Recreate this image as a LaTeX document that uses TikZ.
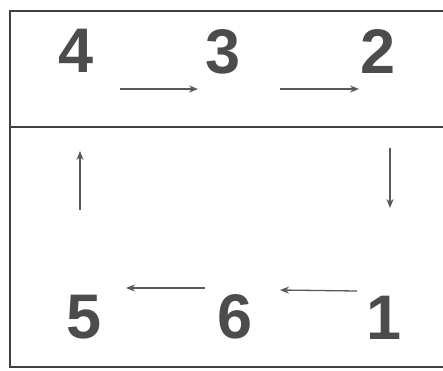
\documentclass[tikz,border=0pt]{standalone}
\usepackage{fontspec}
\setmainfont{Liberation Sans}
\usetikzlibrary{arrows.meta,positioning}

\begin{document}
\begin{tikzpicture}[
            x=1pt, y=-1pt,
            num/.style={font=\bfseries\fontsize{63}{63}\selectfont, text=black!70, inner sep=0pt},
            arr/.style={-{Stealth[length=9pt, width=7pt]}, draw=black!65, line width=1.3pt},
            frame/.style={draw=black!75, line width=2pt}
        ]
            \useasboundingbox (0,0) rectangle (443,370);
            % frame
            \draw[frame] (443,11) -- (10,11) -- (10,367) -- (443,367);
            \draw[frame, line width=1.5pt] (10,127) -- (443,127);

            \node[num] (n4) at (76,51) {4};
            \node[num] (n3) at (223,52) {3};
            \node[num] (n2) at (378,52) {2};
            \node[num] (n5) at (84,317) {5};
            \node[num] (n6) at (235,317) {6};
            \node[num] (n1) at (384,318) {1};

            \coordinate (a43) at (120,89);
            \coordinate (b43) at (198,89);
            \coordinate (a32) at (280,89);
            \coordinate (b32) at (359,89);
            \coordinate (a21) at (390,148);
            \coordinate (b21) at (390,208);
            \coordinate (a16) at (357,291);
            \coordinate (b16) at (280,290);
            \coordinate (a65) at (205,288);
            \coordinate (b65) at (126,288);
            \coordinate (a54) at (80,210);
            \coordinate (b54) at (80,151);

            \draw[arr] (a43) -- (b43);
            \draw[arr] (a32) -- (b32);
            \draw[arr] (a21) -- (b21);
            \draw[arr] (a16) -- (b16);
            \draw[arr] (a65) -- (b65);
            \draw[arr] (a54) -- (b54);
        \end{tikzpicture}
\end{document}
